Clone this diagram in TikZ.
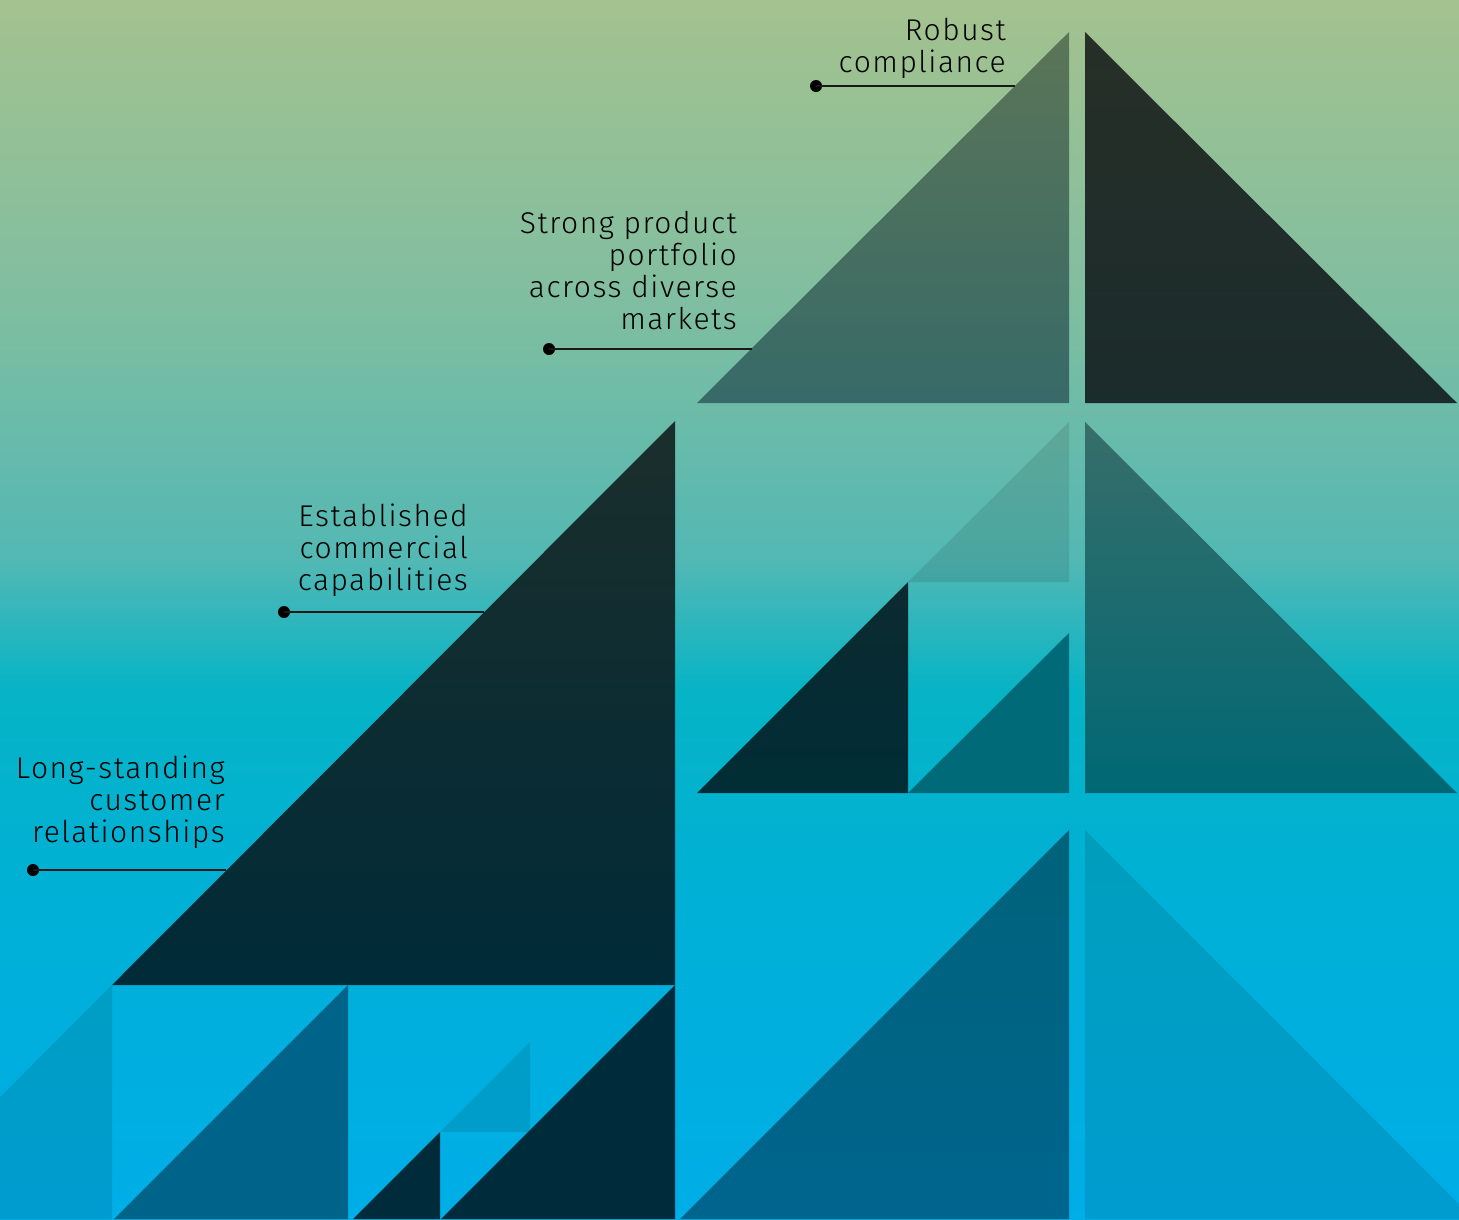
\documentclass[tikz,border=0pt]{standalone}
\usepackage{fontspec}
\setmainfont{Fira Sans Light}[LetterSpace=5]
\usepackage{tikz}

\definecolor{skyA}{HTML}{A4C28E}
\definecolor{skyB}{HTML}{80BEA0}
\definecolor{skyC}{HTML}{52B8B4}
\definecolor{skyD}{HTML}{06B4C6}
\definecolor{skyE}{HTML}{00B0D6}
\definecolor{skyF}{HTML}{00AEE8}
\definecolor{mossT}{HTML}{5B7557}
\definecolor{mossB}{HTML}{376A68}
\definecolor{coalT}{HTML}{272F27}
\definecolor{coalB}{HTML}{1B2C2C}
\definecolor{inkT}{HTML}{0C2A30}
\definecolor{inkB}{HTML}{002D36}
\definecolor{petrol}{HTML}{006A78}
\definecolor{slateT}{HTML}{376E6A}
\definecolor{slateB}{HTML}{006874}
\definecolor{deepT}{HTML}{00627A}
\definecolor{deepB}{HTML}{00658E}
\definecolor{nightT}{HTML}{1B2E2C}
\definecolor{nightB}{HTML}{002B38}
\definecolor{ocean}{HTML}{00648A}
\definecolor{night}{HTML}{002B3A}
\pgfdeclareverticalshading{skyshade}{100bp}{color(0bp)=(skyF); color(25bp)=(skyF);
  color(38bp)=(skyE); color(46.7bp)=(skyD); color(52bp)=(skyC); color(62.7bp)=(skyB);
  color(75bp)=(skyA); color(100bp)=(skyA)}

\begin{document}
\begin{tikzpicture}[x=1pt,y=-1pt,
  tint/.style={fill=black,fill opacity=0.1},
  tag/.style={font=\fontsize{30}{32}\selectfont,align=right,inner sep=0pt,anchor=base east},
  lead/.style={line width=1.2pt,draw=black!90},
  dot/.style={circle,fill=black,inner sep=0pt,minimum size=12pt}]
  \path[shading=skyshade] (0,0) rectangle (1459,1219);
  \useasboundingbox (0,0) rectangle (1459,1219);
  \clip (0,0) rectangle (1459,1219);

  \shade[top color=mossT,bottom color=mossB] (1069,32) -- (1069,403) -- (697,403) -- cycle;
  \shade[top color=coalT,bottom color=coalB] (1085,32) -- (1085,403) -- (1457,403) -- cycle;

  \fill[tint] (1069,422) -- (1069,582) -- (908,582) -- cycle;
  \shade[top color=inkT,bottom color=inkB] (908,582) -- (908,793) -- (697,793) -- cycle;
  \fill[petrol] (1069,633) -- (1069,793) -- (908,793) -- cycle;
  \shade[top color=slateT,bottom color=slateB] (1085,422) -- (1085,793) -- (1457,793) -- cycle;

  \shade[top color=deepT,bottom color=deepB] (1069,830) -- (1069,1219) -- (680,1219) -- cycle;
  \fill[tint] (1085,830) -- (1085,1219) -- (1474,1219) -- cycle;

  \shade[top color=nightT,bottom color=nightB] (675,421) -- (675,985) -- (112,985) -- cycle;
  \fill[tint] (112,985) -- (112,1219) -- (-122,1219) -- cycle;
  \fill[ocean] (348,985) -- (348,1219) -- (114,1219) -- cycle;
  \fill[night] (675,985) -- (675,1219) -- (441,1219) -- cycle;
  \fill[night] (440,1132) -- (440,1219) -- (353,1219) -- cycle;
  \fill[tint] (530,1042) -- (530,1132) -- (440,1132) -- cycle;

  \node[tag] (robust) at (1006,72) {Robust\\compliance};
  \node[dot] (robustdot) at (816,86) {};
  \coordinate (robustend) at (1015,86);
  \draw[lead] (robustdot.center) -- (robustend);

  \node[tag] (portfolio) at (737,329) {Strong product\\portfolio\\across diverse\\markets};
  \node[dot] (portfoliodot) at (549,349) {};
  \coordinate (portfolioend) at (752,349);
  \draw[lead] (portfoliodot.center) -- (portfolioend);

  \node[tag] (commercial) at (468,590) {Established\\commercial\\capabilities};
  \node[dot] (commercialdot) at (284,612) {};
  \coordinate (commercialend) at (484,612);
  \draw[lead] (commercialdot.center) -- (commercialend);

  \node[tag] (customer) at (225,842) {Long-standing\\customer\\relationships};
  \node[dot] (customerdot) at (33,870) {};
  \coordinate (customerend) at (226,870);
  \draw[lead] (customerdot.center) -- (customerend);
\end{tikzpicture}
\end{document}
